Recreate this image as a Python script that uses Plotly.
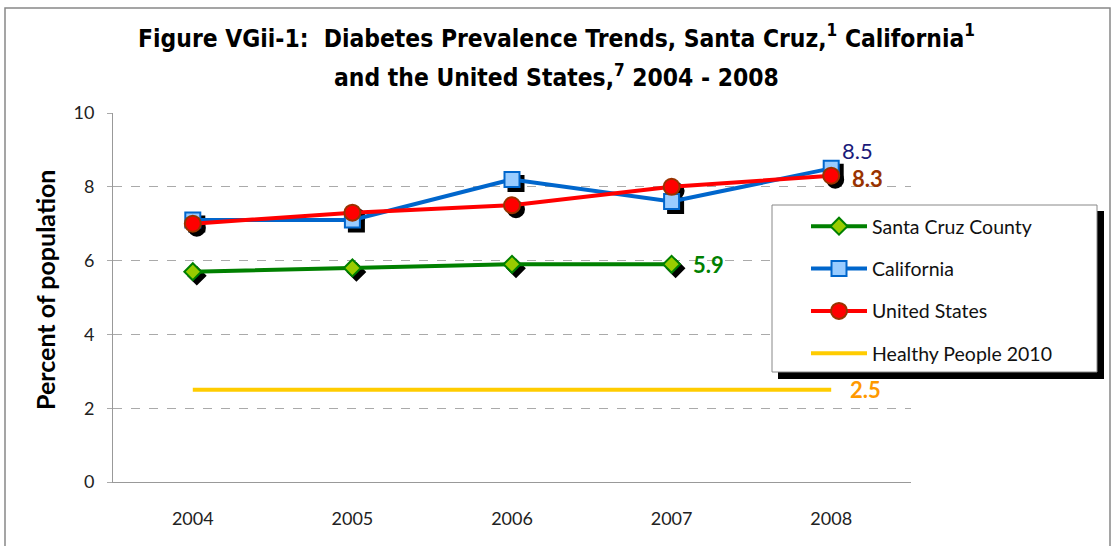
import plotly.graph_objects as go

years = ["2004", "2005", "2006", "2007", "2008"]
santa_cruz = [5.7, 5.8, 5.9, 5.9, None]
california = [7.1, 7.1, 8.2, 7.6, 8.5]
united_states = [7.0, 7.3, 7.5, 8.0, 8.3]
healthy_people = [2.5, 2.5, 2.5, 2.5, 2.5]

W, H = 1113, 546
L, R, T, B = 113, 911, 113, 482
pw, ph = R - L, B - T

def px2x(dx):
    return dx * 5.0 / pw

def px2y(dy):
    return dy * 10.0 / ph

def pxX(px):
    return (px - L) / pw

def pxY(py):
    return (B - py) / ph

LBL = "Lato, Open Sans, sans-serif"
fig = go.Figure()

series = [
    ("Santa Cruz County", santa_cruz, "#008000", dict(symbol="diamond", size=13, color="#99CC00", line=dict(color="#008000", width=2))),
    ("California", california, "#0066CC", dict(symbol="square", size=15, color="#99CCFF", line=dict(color="#0066CC", width=2))),
    ("United States", united_states, "#FF0000", dict(symbol="circle", size=16, color="#FF0000", line=dict(color="#993300", width=2))),
]

fig.add_trace(go.Scatter(x=years, y=healthy_people, mode="lines", name="Healthy People 2010",
                         line=dict(color="#FFCC00", width=4), legendgroup="hp", legendrank=4))

for name, vals, col, mk in series:
    sh = dict(mk)
    sh["color"] = "black"
    sh["line"] = dict(color="black", width=2)
    fig.add_trace(go.Scatter(x=years, y=vals, mode="markers", marker=sh,
                             xaxis="x2", yaxis="y2", showlegend=False, hoverinfo="skip"))

for i, (name, vals, col, mk) in enumerate(series):
    fig.add_trace(go.Scatter(x=years, y=vals, mode="lines+markers", name=name,
                             line=dict(color=col, width=4), marker=mk, connectgaps=False,
                             xaxis="x3", yaxis="y3", legendgroup=name, legendrank=i + 1))

labels = [
    (3, santa_cruz[3], "5.9", "#008000", "bold", 19, 0),
    (4, california[4], "8.5", "#1A1A7A", "normal", 9, 18),
    (4, united_states[4], "8.3", "#993300", "bold", 19, -3),
    (4, healthy_people[4], "2.5", "#FF9900", "bold", 17, 0),
]
annotations = []
for xi, yv, t, c, w, xs, ys in labels:
    annotations.append(dict(x=xi, y=yv, xref="x", yref="y", text=t, showarrow=False,
                            xanchor="left", yanchor="middle", xshift=xs, yshift=ys,
                            font=dict(family=LBL, size=22, color=c, weight=w)))

TF = "Liberation Sans Narrow, DejaVu Sans Condensed, Arial Narrow, sans-serif"
annotations.append(dict(x=pxX(W / 2), y=pxY(76), xref="paper", yref="paper", showarrow=False,
                        xanchor="center", yanchor="middle",
                        text="and the United States,<sup>7</sup> 2004 - 2008",
                        font=dict(family=TF, size=24.4, color="black", weight="bold")))
annotations.append(dict(x=pxX(45), y=pxY(290), xref="paper", yref="paper", showarrow=False,
                        xanchor="center", yanchor="middle", textangle=-90,
                        text="Percent of population",
                        font=dict(family=LBL, size=25, color="black", weight="bold")))

fig.update_layout(
    width=W, height=H,
    margin=dict(l=L, r=W - R, t=T, b=H - B),
    paper_bgcolor="white", plot_bgcolor="white",
    title=dict(
        text="Figure VGii-1:  Diabetes Prevalence Trends, Santa Cruz,<sup>1</sup> California<sup>1</sup>",
        x=0.5, xanchor="center", y=1 - 38 / H, yanchor="middle",
        font=dict(family=TF, size=24.4, color="black", weight="bold"),
    ),
    xaxis=dict(type="category", range=[-0.5, 4.5], showgrid=False, showline=True,
               linecolor="#999999", linewidth=1, ticks="", tickfont=dict(family=LBL, size=18, color="#222222"),
               ticklabelstandoff=20, zeroline=False),
    yaxis=dict(range=[0, 10], dtick=2, showgrid=True, gridcolor="#AAAAAA", griddash="dash",
               showline=True, linecolor="#999999", linewidth=1, ticks="outside", ticklen=5,
               tickcolor="#AAAAAA", tickfont=dict(family=LBL, size=18, color="#222222"),
               ticklabelstandoff=9, zeroline=False),
    xaxis2=dict(type="category", overlaying="x", range=[-0.5 - px2x(4), 4.5 - px2x(4)], visible=False),
    yaxis2=dict(overlaying="y", range=[0 + px2y(4), 10 + px2y(4)], visible=False),
    xaxis3=dict(type="category", overlaying="x", range=[-0.5, 4.5], visible=False),
    yaxis3=dict(overlaying="y", range=[0, 10], visible=False),
    legend=dict(x=pxX(806), y=pxY(207), xanchor="left", yanchor="top",
                bgcolor="rgba(0,0,0,0)", borderwidth=0,
                font=dict(family=LBL, size=19.5, color="#111111"),
                itemwidth=56, tracegroupgap=14, traceorder="grouped"),
    showlegend=True,
    annotations=annotations,
    shapes=[
        dict(type="rect", xref="paper", yref="paper",
             x0=pxX(778), x1=pxX(1104), y0=pxY(379), y1=pxY(211),
             fillcolor="black", line=dict(width=0), layer="above"),
        dict(type="rect", xref="paper", yref="paper",
             x0=pxX(772), x1=pxX(1097), y0=pxY(372), y1=pxY(205),
             fillcolor="white", line=dict(color="#888888", width=1), layer="above"),
        dict(type="rect", xref="paper", yref="paper",
             x0=pxX(5), x1=pxX(1110), y0=pxY(560), y1=pxY(8),
             fillcolor="rgba(0,0,0,0)", line=dict(color="#888888", width=1.5), layer="below"),
    ],
)

fig.write_html("out.html")
